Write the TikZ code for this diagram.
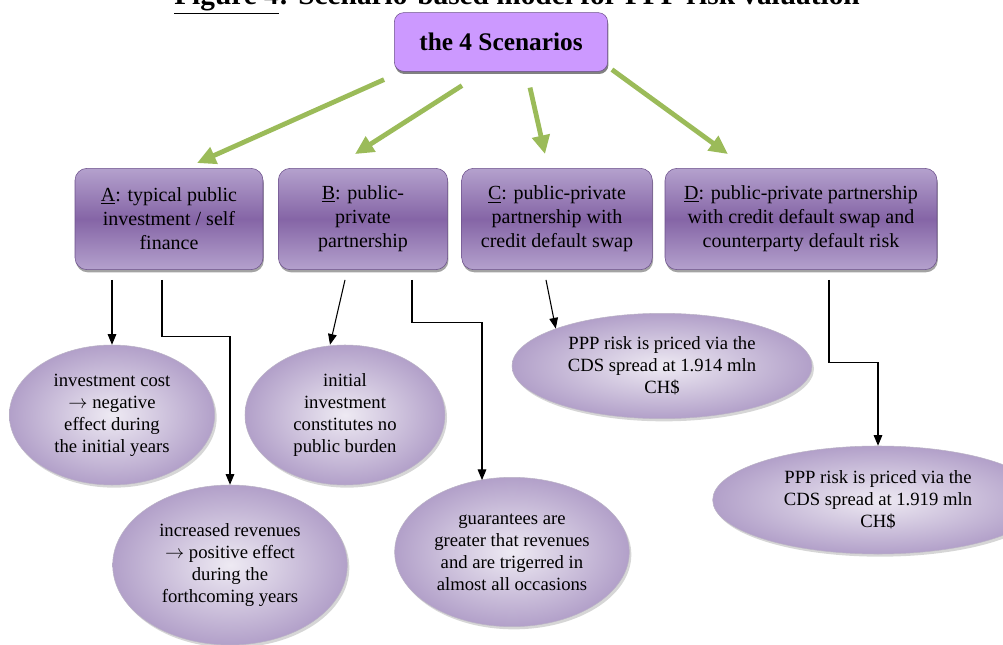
\documentclass[tikz,border=0pt]{standalone}
\usepackage{fontspec}
\setmainfont{Liberation Serif}
\usepackage{xcolor}
\usetikzlibrary{arrows.meta,positioning,calc,shapes.geometric,shadows}

\definecolor{boxtop}{HTML}{B4A1CD}
\definecolor{boxmid}{HTML}{8565A6}
\definecolor{boxline}{HTML}{6B4F8A}
\definecolor{topfill}{HTML}{CC99FF}
\definecolor{ovalin}{HTML}{EEEAF3}
\definecolor{ovalout}{HTML}{B2A0C9}
\definecolor{grn}{HTML}{9BBB59}

\begin{document}
\begin{tikzpicture}[x=0.75pt, y=-0.75pt,
  tp/.style={draw=boxline, fill=topfill, rounded corners=7pt, minimum width=160pt, minimum height=44pt,
    font=\bfseries\fontsize{19}{22}\selectfont,
    drop shadow={shadow xshift=0.6pt, shadow yshift=-2pt, fill=black!70, opacity=0.7}},
  bx/.style={draw=boxline, rounded corners=9pt, top color=boxtop, bottom color=boxtop, middle color=boxmid,
    minimum height=76pt, align=center, font=\fontsize{15}{18}\selectfont,
    drop shadow={shadow xshift=0.6pt, shadow yshift=-2pt, fill=black!60, opacity=0.6}},
  ov/.style={ellipse, draw=ovalout!80!black!60, inner sep=0pt, shading=radial, inner color=ovalin, outer color=ovalout,
    align=center, font=\fontsize{14}{16.5}\selectfont,
    drop shadow={shadow xshift=1.5pt, shadow yshift=-2pt, fill=black!40, opacity=0.4}},
  g/.style={line width=3.6pt, color=grn, -{Triangle[length=14pt,width=13pt]}},
  k/.style={line width=0.8pt, -{Triangle[length=8pt,width=6.5pt]}}
]
\useasboundingbox (0,0) rectangle (1003,645);
\node[font=\bfseries\fontsize{22}{26}\selectfont, anchor=base] (title) at (517,5) {\underline{Figure 4}: Scenario-based model for PPP risk valuation};

% scenarios
\node[tp] (top) at (501,42) {the 4 Scenarios};
\node[bx, minimum width=141pt] (A) at (169,219) {\underline{A}: typical public\\investment / self\\finance};
\node[bx, minimum width=127pt] (B) at (363,219) {\underline{B}: public-\\private\\partnership};
\node[bx, minimum width=143pt] (C) at (557,219) {\underline{C}: public-private\\partnership with\\credit default swap};
\node[bx, minimum width=204pt] (D) at (801,219) {\underline{D}: public-private partnership\\with credit default swap and\\counterparty default risk};

% outcomes
\node[ov, minimum width=154pt, minimum height=105pt] (costs) at (112,415) {investment cost\\$\rightarrow$ negative\\effect during\\the initial years};
\node[ov, minimum width=150pt, minimum height=105pt] (burden) at (345,415) {initial\\investment\\constitutes no\\public burden};
\node[ov, minimum width=176pt, minimum height=120pt] (revenues) at (230,565) {increased revenues\\$\rightarrow$ positive effect\\during the\\forthcoming years};
\node[ov, minimum width=176pt, minimum height=112pt] (guarantees) at (512,552) {guarantees are\\greater that revenues\\and are trigerred in\\almost all occasions};
\node[ov, minimum width=225pt, minimum height=79pt] (cdsC) at (662,366) {PPP risk is priced via the\\CDS spread at 1.914 mln\\CH\$};
\node[ov, minimum width=248pt, minimum height=81pt] (cdsD) at (878,500) {PPP risk is priced via the\\CDS spread at 1.919 mln\\CH\$};

\draw[g] ($(top.south west)+(-10,8)$) -- ($(A.north)+(28,-5)$);
\draw[g] ($(top.south)+(-39,14)$) -- ($(B.north)+(-8,-14)$);
\draw[g] ($(top.south)+(29,16)$) -- ($(C.north)+(-12,-14)$);
\draw[g] ($(top.south east)+(4,-2)$) -- ($(D.north)+(-73,-14)$);

\draw[k] ($(A.south)+(-57,10)$) -- (costs.north);
\draw[k] ($(A.south)+(-7,10)$) -- ++(0,57) -| (revenues.north);
\draw[k] ($(B.south)+(-18,10)$) -- ($(burden.north)+(-15,0)$);
\draw[k] ($(B.south)+(49,10)$) -- ++(0,43) -| ($(guarantees.north)+(-30,3)$);
\draw[k] ($(C.south)+(-11,10)$) -- (cdsC.north west);
\draw[k] ($(D.south)+(28,10)$) -- ++(0,83) -| (cdsD.north);
\end{tikzpicture}
\end{document}
